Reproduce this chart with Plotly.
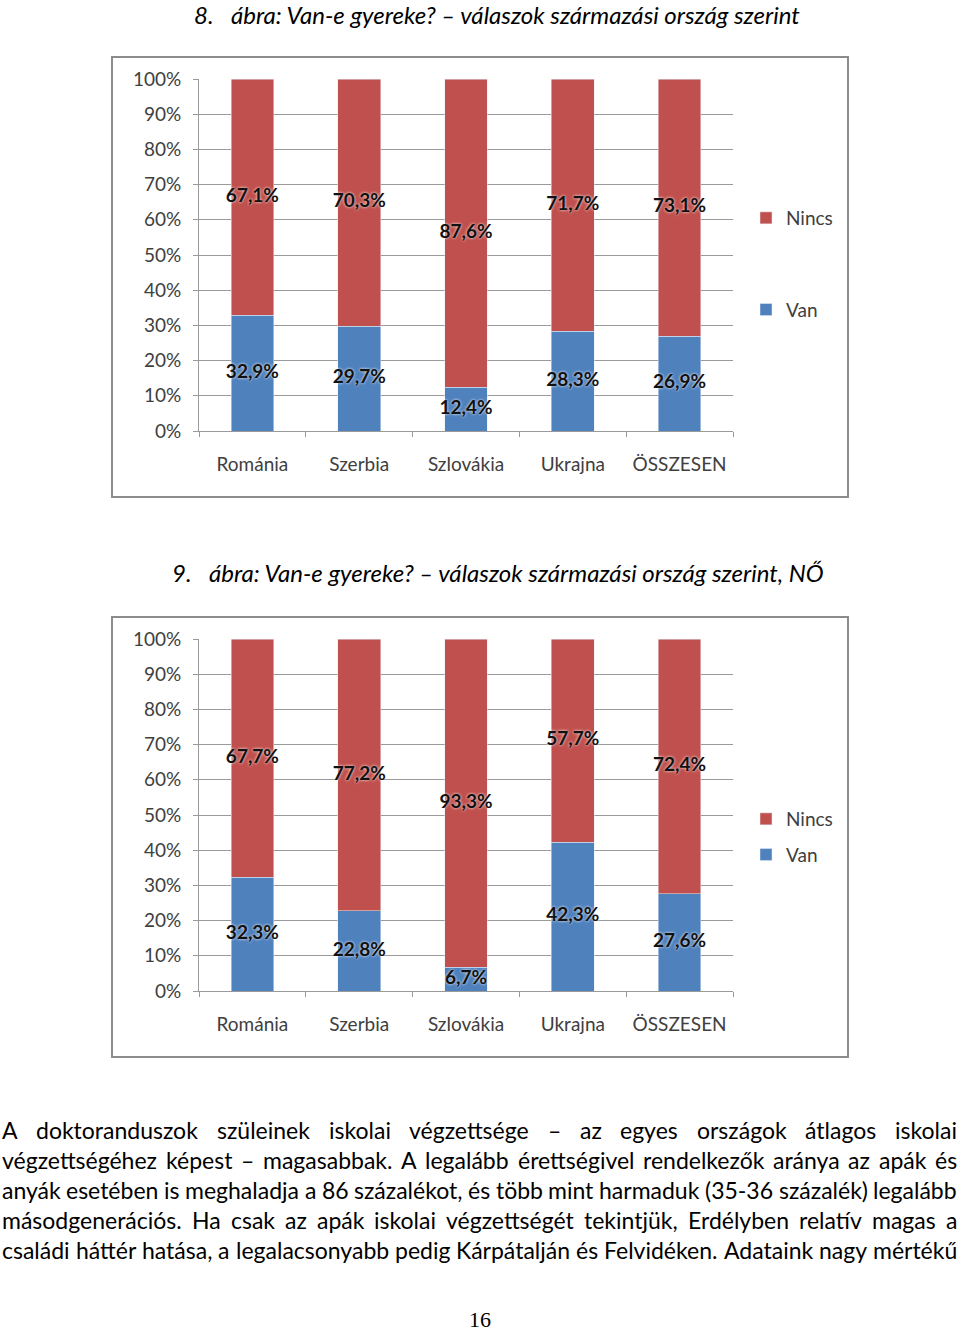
import plotly.graph_objects as go

# ---------------- data ----------------
categories = ["Románia", "Szerbia", "Szlovákia", "Ukrajna", "ÖSSZESEN"]
van_1 = [32.9, 29.7, 12.4, 28.3, 26.9]
nincs_1 = [67.1, 70.3, 87.6, 71.7, 73.1]
van_2 = [32.3, 22.8, 6.7, 42.3, 27.6]
nincs_2 = [67.7, 77.2, 93.3, 57.7, 72.4]
y_tick_values = [0, 10, 20, 30, 40, 50, 60, 70, 80, 90, 100]
y_tick_labels = ["0%", "10%", "20%", "30%", "40%", "50%", "60%", "70%", "80%", "90%", "100%"]
series_names = ["Van", "Nincs"]

title_1 = ("8.", "ábra: Van-e gyereke? – válaszok származási ország szerint")
title_2 = ("9.", "ábra: Van-e gyereke? – válaszok származási ország szerint, NŐ")

body_lines = [
    "A doktoranduszok szüleinek iskolai végzettsége – az egyes országok átlagos iskolai",
    "végzettségéhez képest – magasabbak. A legalább érettségivel rendelkezők aránya az apák és",
    "anyák esetében is meghaladja a 86 százalékot, és több mint harmaduk (35-36 százalék) legalább",
    "másodgenerációs. Ha csak az apák iskolai végzettségét tekintjük, Erdélyben relatív magas a",
    "családi háttér hatása, a legalacsonyabb pedig Kárpátalján és Felvidéken. Adataink nagy mértékű",
]
page_number = "16"

# ---------------- styling ----------------
W, H = 960, 1332
RED = "#C0504D"
BLUE = "#4F81BD"
GRID = "#9a9a9a"
FONT = "Lato, 'Open Sans', sans-serif"


def px(x):
    return x / W


def py(y):
    return 1 - y / H


def fmt(v):
    return f"{v:.1f}".replace(".", ",") + "%"


fig = go.Figure()

charts = [
    dict(van=van_1, nincs=nincs_1, xa="x", ya="y", legend="legend", frame=(57, 497)),
    dict(van=van_2, nincs=nincs_2, xa="x2", ya="y2", legend="legend2", frame=(617, 1057)),
]

label_font = dict(family=FONT, size=19, color="#111111", weight="bold",
                  shadow="0px 0px 3px #ffffff")

for i, ch in enumerate(charts):
    fig.add_trace(go.Bar(x=categories, y=ch["van"], name=series_names[0], marker_color=BLUE,
                         xaxis=ch["xa"], yaxis=ch["ya"], legend=ch["legend"],
                         legendgroup=f"van{i}", legendrank=2, hoverinfo="skip"))
    fig.add_trace(go.Bar(x=categories, y=ch["nincs"], name=series_names[1], marker_color=RED,
                         xaxis=ch["xa"], yaxis=ch["ya"], legend=ch["legend"],
                         legendgroup=f"nincs{i}", legendrank=1, hoverinfo="skip"))
    # data labels at the middle of each segment
    fig.add_trace(go.Scatter(x=categories, y=[v / 2 for v in ch["van"]], mode="text",
                             text=[fmt(v) for v in ch["van"]], textfont=label_font,
                             textposition="middle center",
                             xaxis=ch["xa"], yaxis=ch["ya"], showlegend=False,
                             cliponaxis=False, hoverinfo="skip"))
    fig.add_trace(go.Scatter(x=categories,
                             y=[v + n / 2 for v, n in zip(ch["van"], ch["nincs"])],
                             mode="text", text=[fmt(n) for n in ch["nincs"]],
                             textposition="middle center",
                             textfont=label_font, xaxis=ch["xa"], yaxis=ch["ya"],
                             showlegend=False, cliponaxis=False, hoverinfo="skip"))

axis_common_x = dict(type="category", showline=True, linecolor=GRID, linewidth=1,
                     ticks="outside", tickson="boundaries", ticklen=5, tickcolor=GRID,
                     showgrid=False, tickfont=dict(family=FONT, size=19, color="#404040"),
                     ticklabelstandoff=16, fixedrange=True, automargin=False)
axis_common_y = dict(range=[0, 100], tickmode="array", tickvals=y_tick_values,
                     ticktext=y_tick_labels, showline=True,
                     linecolor=GRID, linewidth=1, ticks="outside", ticklen=5, tickcolor=GRID,
                     showgrid=True, gridcolor=GRID, gridwidth=1, zeroline=False,
                     tickfont=dict(family=FONT, size=19, color="#404040"),
                     ticklabelstandoff=8, fixedrange=True, automargin=False)

x_dom = [px(199), px(733)]
fig.update_layout(
    xaxis=dict(axis_common_x, domain=x_dom, anchor="y"),
    yaxis=dict(axis_common_y, domain=[py(431), py(79)], anchor="x"),
    xaxis2=dict(axis_common_x, domain=x_dom, anchor="y2"),
    yaxis2=dict(axis_common_y, domain=[py(991), py(639)], anchor="x2"),
)

legend_common = dict(xanchor="left", yanchor="top", traceorder="grouped",
                     font=dict(family=FONT, size=19, color="#404040"),
                     bgcolor="rgba(0,0,0,0)", itemwidth=30)
fig.update_layout(
    legend=dict(legend_common, x=px(746), y=py(199), tracegroupgap=64),
    legend2=dict(legend_common, x=px(746), y=py(800), tracegroupgap=8),
)

# frames around the charts
shapes = []
for ch in charts:
    t, b = ch["frame"]
    shapes.append(dict(type="rect", xref="paper", yref="paper", x0=px(112), x1=px(848),
                       y0=py(b), y1=py(t), line=dict(color="#8c8c8c", width=2),
                       fillcolor="rgba(0,0,0,0)", layer="below"))

annotations = []
# titles
title_font = dict(family=FONT, size=24, color="#000000", style="italic")
for (num, txt), xnum, xtxt, yc in [(title_1, 192, 229, 15), (title_2, 170, 207, 573)]:
    annotations.append(dict(text=num, x=px(xnum), y=py(yc), xref="paper", yref="paper",
                            xanchor="left", yanchor="middle", showarrow=False, font=title_font))
    annotations.append(dict(text=txt, x=px(xtxt), y=py(yc), xref="paper", yref="paper",
                            xanchor="left", yanchor="middle", showarrow=False, font=title_font))

# justified body text: estimated word positions (refined in the browser, see post_script)
CW = {
    "a": .50, "b": .56, "c": .46, "d": .56, "e": .52, "f": .32, "g": .50, "h": .56,
    "i": .24, "j": .24, "k": .50, "l": .24, "m": .84, "n": .56, "o": .56, "p": .56,
    "q": .56, "r": .37, "s": .43, "t": .35, "u": .56, "v": .51, "w": .77, "x": .50,
    "y": .51, "z": .46, "A": .68, "E": .56, "F": .54, "H": .74, "K": .67, "N": .75,
    ".": .22, ",": .22, "(": .30, ")": .30, "-": .33, "–": .56, "%": .78,
}
ACC = {"á": "a", "é": "e", "í": "i", "ó": "o", "ö": "o", "ő": "o", "ú": "u", "ü": "u",
       "ű": "u", "Á": "A", "É": "E"}


def word_width(w, fs):
    tot = 0
    for c in w:
        c = ACC.get(c, c)
        tot += .58 if c.isdigit() else CW.get(c, .55)
    return tot * fs * 0.96


BODY_FS = 23
L, R = 0, 959
for li, line in enumerate(body_lines):
    words = line.split(" ")
    ws = [word_width(w, BODY_FS) for w in words]
    gap = (R - L - sum(ws)) / (len(words) - 1)
    x = L
    yc = 1130 + 30 * li
    for k, (w, wd) in enumerate(zip(words, ws)):
        annotations.append(dict(text=w, x=px(x), y=py(yc), xref="paper", yref="paper",
                                xanchor="left", yanchor="middle", showarrow=False,
                                name=f"body|{li}",
                                font=dict(family=FONT, size=BODY_FS, color="#000000")))
        x += wd + gap

annotations.append(dict(text=page_number, x=px(480), y=py(1319), xref="paper", yref="paper",
                        xanchor="center", yanchor="middle", showarrow=False,
                        font=dict(family="Liberation Serif, serif", size=22, color="#000000")))

fig.update_layout(
    width=W, height=H, margin=dict(l=0, r=0, t=0, b=0, autoexpand=False),
    paper_bgcolor="white", plot_bgcolor="white",
    barmode="stack", bargap=0.6,
    shapes=shapes, annotations=annotations,
    hovermode=False,
)

post_script = """
(function(){
  document.body.style.margin = '0px';
  document.body.style.overflow = 'hidden';
  var gd = document.querySelector('.plotly-graph-div');
  if (!gd || !gd.layout) return;
  try {
    var W = %d, L = %d, R = %d, PAD = 2;
    var ctx = document.createElement('canvas').getContext('2d');
    var anns = JSON.parse(JSON.stringify(gd.layout.annotations));
    var groups = {};
    anns.forEach(function(a, i){
      if (a.name && a.name.indexOf('body|') === 0) {
        var g = a.name.split('|')[1];
        (groups[g] = groups[g] || []).push(i);
      }
    });
    Object.keys(groups).forEach(function(g){
      var idx = groups[g];
      var ws = idx.map(function(i){
        var a = anns[i];
        ctx.font = a.font.size + 'px ' + a.font.family;
        return ctx.measureText(a.text).width + 2 * PAD;
      });
      var tot = ws.reduce(function(s, w){ return s + w; }, 0);
      var gap = (R - L - tot) / (idx.length - 1);
      var x = L;
      idx.forEach(function(i, k){ anns[i].x = x / W; x += ws[k] + gap; });
    });
    Plotly.relayout(gd, {annotations: anns});
  } catch (e) {}
})();
""" % (W, L, R)

fig.write_html("out.html", config={"displayModeBar": False}, post_script=post_script)
